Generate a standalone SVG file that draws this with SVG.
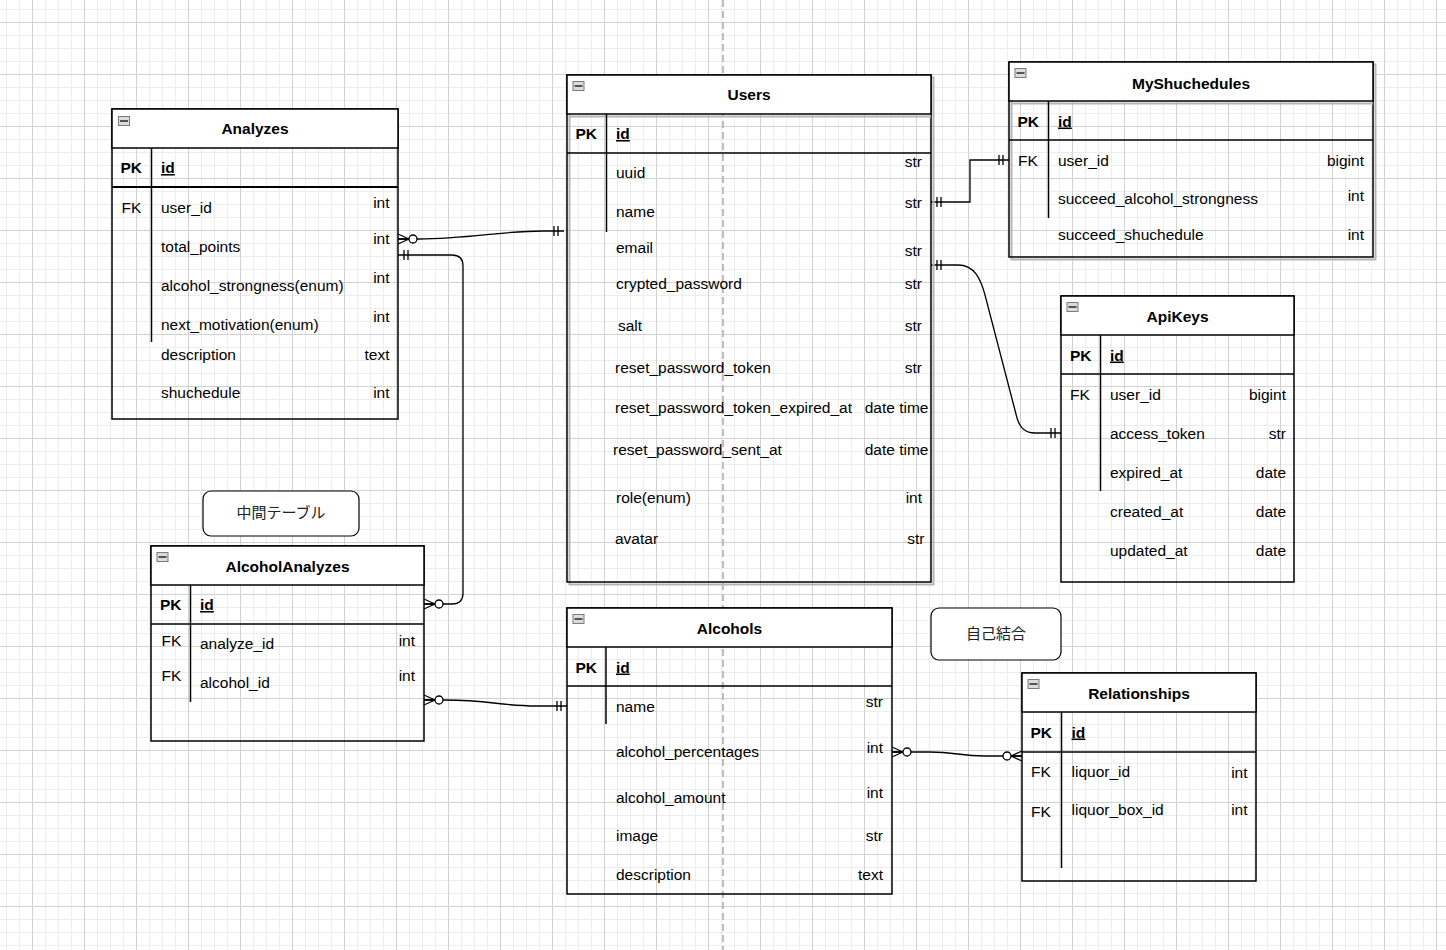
<svg xmlns="http://www.w3.org/2000/svg" width="1446" height="950" viewBox="0 0 1446 950">
<defs>
<pattern id="gridp" patternUnits="userSpaceOnUse" x="32" y="22" width="52" height="52">
<path d="M13.5,0V52M26.5,0V52M39.5,0V52M0,13.5H52M0,26.5H52M0,39.5H52" stroke="#ededed" stroke-width="1" fill="none"/>
<path d="M0.5,0V52M0,0.5H52" stroke="#d2d2d2" stroke-width="1" fill="none"/>
</pattern>
<marker id="zeroMany" viewBox="-20 -8 22 16" refX="0" refY="0" markerWidth="22" markerHeight="16" markerUnits="userSpaceOnUse" orient="auto-start-reverse">
<path d="M-11,0L0,-5M-11,0L0,0M-11,0L0,5" stroke="#000" stroke-width="1.3" fill="none"/>
<circle cx="-15" cy="0" r="4" fill="#fff" stroke="#000" stroke-width="1.3"/>
</marker>
<marker id="mandOne" viewBox="-14 -8 16 16" refX="0" refY="0" markerWidth="16" markerHeight="16" markerUnits="userSpaceOnUse" orient="auto-start-reverse">
<path d="M-6,-5V5M-10,-5V5" stroke="#000" stroke-width="1.3" fill="none"/>
</marker>
</defs>
<style>
.t{font-family:"Liberation Sans",Arial,sans-serif;font-size:15.5px;fill:#000}
.b{font-weight:bold}
.u{text-decoration:underline}
.r{text-anchor:end}
.m{text-anchor:middle}
.cjk{font-family:"Liberation Sans","Noto Sans CJK JP",sans-serif;font-size:15px;fill:#222;text-anchor:middle}
.box{fill:none;stroke:#000;stroke-width:1.5}
.hdr{fill:#fff;stroke:#000;stroke-width:1.5}
.ln{stroke:#000;stroke-width:1.5;fill:none}
.sh{fill:none;stroke:#b5b5b5;stroke-width:2}
.ico{fill:#dcdcdc;stroke:#7a7a7a;stroke-width:1}
.icl{stroke:#555;stroke-width:2}
.conn{fill:none;stroke:#000;stroke-width:1.3}
.note{fill:#fff;stroke:#000;stroke-width:1.2}
</style>
<g id="background">
<rect x="0" y="0" width="1446" height="950" fill="#fff"/>
<rect x="0" y="0" width="1446" height="950" fill="url(#gridp)"/>
<line x1="723" y1="0" x2="723" y2="950" stroke="#bdbdbd" stroke-width="2" stroke-dasharray="7 4"/>
</g>

<g id="connectors">
<path class="conn" d="M398,239 L418,239 C470,239 500,231 543,231 L564,231" marker-start="url(#zeroMany)" marker-end="url(#mandOne)"/>
<path class="conn" d="M398,255 L452,255 Q463,255 463,266 L463,593 Q463,604 452,604 L424,604" marker-start="url(#mandOne)" marker-end="url(#zeroMany)"/>
<path class="conn" d="M931,202 H970 V160 H1009" marker-start="url(#mandOne)" marker-end="url(#mandOne)"/>
<path class="conn" d="M931,265 L958,265 C975,265 981,280 985,295 L1017,418 C1020,428 1025,433 1035,433 L1061,433" marker-start="url(#mandOne)" marker-end="url(#mandOne)"/>
<path class="conn" d="M424,700 L444,700 C490,700 500,706 537,706 L567,706" marker-start="url(#zeroMany)" marker-end="url(#mandOne)"/>
<path class="conn" d="M892,752 L930,752 C955,752 960,756 985,756 L1022,756" marker-start="url(#zeroMany)" marker-end="url(#zeroMany)"/>
</g>

<g id="note-chukan">
<rect class="note" x="203" y="491" width="156" height="45" rx="8"/>
<text class="cjk" x="281" y="518">中間テーブル</text>
</g>
<g id="note-jiko">
<rect class="note" x="931" y="608" width="130" height="52" rx="8"/>
<text class="cjk" x="996" y="638.5">自己結合</text>
</g>

<g id="Analyzes">
<rect class="box" x="112" y="109" width="286" height="310"/>
<rect class="hdr" x="112" y="109" width="286" height="39"/>
<rect class="ico" x="118.5" y="116.5" width="11" height="9"/><line class="icl" x1="120" y1="121" x2="128" y2="121"/>
<line x1="112" y1="187" x2="398" y2="187" stroke="#000" stroke-width="2.2"/>
<line class="ln" x1="151.5" y1="148" x2="151.5" y2="342"/>
<text class="t b m" x="255" y="134">Analyzes</text>
<text class="t b" x="120.5" y="173">PK</text>
<text class="t b u" x="161" y="173">id</text>
<text class="t" x="121.5" y="212.5">FK</text>
<text class="t" x="161" y="212.5">user_id</text><text class="t r" x="389.5" y="208">int</text>
<text class="t" x="161" y="251.5">total_points</text><text class="t r" x="389.5" y="244">int</text>
<text class="t" x="161" y="290.5">alcohol_strongness(enum)</text><text class="t r" x="389.5" y="283">int</text>
<text class="t" x="161" y="329.5">next_motivation(enum)</text><text class="t r" x="389.5" y="322">int</text>
<text class="t" x="161" y="360">description</text><text class="t r" x="389.5" y="360">text</text>
<text class="t" x="161" y="397.5">shuchedule</text><text class="t r" x="389.5" y="397.5">int</text>
</g>

<g id="Users">
<rect class="sh" x="569.5" y="77.5" width="364" height="507"/>
<rect class="box" x="567" y="75" width="364" height="507"/>
<rect class="hdr" x="567" y="75" width="364" height="39"/>
<line class="sh" x1="569" y1="116.5" x2="931" y2="116.5"/>
<rect class="ico" x="573" y="81.5" width="11" height="9"/><line class="icl" x1="574.5" y1="86" x2="582.5" y2="86"/>
<line class="ln" x1="567" y1="153" x2="931" y2="153"/>
<line class="ln" x1="606.5" y1="114" x2="606.5" y2="232"/>
<text class="t b m" x="749" y="100">Users</text>
<text class="t b" x="575.5" y="139">PK</text>
<text class="t b u" x="616" y="139">id</text>
<text class="t" x="616" y="178">uuid</text><text class="t r" x="922" y="167">str</text>
<text class="t" x="616" y="217">name</text><text class="t r" x="922" y="208">str</text>
<text class="t" x="616" y="252.5">email</text><text class="t r" x="922" y="255.5">str</text>
<text class="t" x="616" y="288.5">crypted_password</text><text class="t r" x="922" y="289">str</text>
<text class="t" x="618" y="330.5">salt</text><text class="t r" x="922" y="330.5">str</text>
<text class="t" x="615" y="372.5">reset_password_token</text><text class="t r" x="922" y="372.5">str</text>
<text class="t" x="615" y="413">reset_password_token_expired_at</text><text class="t r" x="928.5" y="413">date time</text>
<text class="t" x="613" y="455">reset_password_sent_at</text><text class="t r" x="928.5" y="455">date time</text>
<text class="t" x="616" y="502.5">role(enum)</text><text class="t r" x="922" y="502.5">int</text>
<text class="t" x="615" y="544">avatar</text><text class="t r" x="924.5" y="544">str</text>
</g>

<g id="MyShuchedules">
<rect class="sh" x="1011.5" y="64.5" width="364" height="195"/>
<rect class="box" x="1009" y="62" width="364" height="195"/>
<rect class="hdr" x="1009" y="62" width="364" height="39"/>
<line class="sh" x1="1011" y1="103.5" x2="1373" y2="103.5"/>
<rect class="ico" x="1015" y="68.5" width="11" height="9"/><line class="icl" x1="1016.5" y1="73" x2="1024.5" y2="73"/>
<line class="ln" x1="1009" y1="140" x2="1373" y2="140"/>
<line class="ln" x1="1048.5" y1="101" x2="1048.5" y2="218"/>
<text class="t b m" x="1191" y="88.5">MyShuchedules</text>
<text class="t b" x="1017.5" y="126.5">PK</text>
<text class="t b u" x="1058" y="126.5">id</text>
<text class="t" x="1018" y="165.5">FK</text>
<text class="t" x="1058" y="165.5">user_id</text><text class="t r" x="1364" y="165.5">bigint</text>
<text class="t" x="1058" y="204">succeed_alcohol_strongness</text><text class="t r" x="1364" y="200.5">int</text>
<text class="t" x="1058" y="239.5">succeed_shuchedule</text><text class="t r" x="1364" y="239.5">int</text>
</g>

<g id="ApiKeys">
<rect class="box" x="1061" y="296" width="233" height="286"/>
<rect class="hdr" x="1061" y="296" width="233" height="39"/>
<rect class="ico" x="1067" y="302.5" width="11" height="9"/><line class="icl" x1="1068.5" y1="307" x2="1076.5" y2="307"/>
<line class="ln" x1="1061" y1="374" x2="1294" y2="374"/>
<line class="ln" x1="1100.5" y1="335" x2="1100.5" y2="491"/>
<text class="t b m" x="1177.5" y="321.5">ApiKeys</text>
<text class="t b" x="1070" y="360.5">PK</text>
<text class="t b u" x="1110" y="360.5">id</text>
<text class="t" x="1070" y="400">FK</text>
<text class="t" x="1110" y="400">user_id</text><text class="t r" x="1286" y="400">bigint</text>
<text class="t" x="1110" y="438.5">access_token</text><text class="t r" x="1286" y="438.5">str</text>
<text class="t" x="1110" y="477.5">expired_at</text><text class="t r" x="1286" y="477.5">date</text>
<text class="t" x="1110" y="516.5">created_at</text><text class="t r" x="1286" y="516.5">date</text>
<text class="t" x="1110" y="555.5">updated_at</text><text class="t r" x="1286" y="555.5">date</text>
</g>

<g id="AlcoholAnalyzes">
<rect class="box" x="151" y="546" width="273" height="195"/>
<rect class="hdr" x="151" y="546" width="273" height="39"/>
<rect class="ico" x="157" y="552.5" width="11" height="9"/><line class="icl" x1="158.5" y1="557" x2="166.5" y2="557"/>
<line class="ln" x1="151" y1="624" x2="424" y2="624"/>
<line class="ln" x1="190.5" y1="585" x2="190.5" y2="702"/>
<text class="t b m" x="287.5" y="571.5">AlcoholAnalyzes</text>
<text class="t b" x="160" y="610">PK</text>
<text class="t b u" x="200" y="610">id</text>
<text class="t" x="161.5" y="645.5">FK</text>
<text class="t" x="200" y="648.5">analyze_id</text><text class="t r" x="415" y="645.5">int</text>
<text class="t" x="161.5" y="680.5">FK</text>
<text class="t" x="200" y="687.5">alcohol_id</text><text class="t r" x="415" y="680.5">int</text>
</g>

<g id="Alcohols">
<rect class="box" x="567" y="608" width="325" height="286"/>
<rect class="hdr" x="567" y="608" width="325" height="39"/>
<rect class="ico" x="573" y="614.5" width="11" height="9"/><line class="icl" x1="574.5" y1="619" x2="582.5" y2="619"/>
<line class="ln" x1="567" y1="686" x2="892" y2="686"/>
<line class="ln" x1="606" y1="647" x2="606" y2="724"/>
<text class="t b m" x="729.5" y="633.5">Alcohols</text>
<text class="t b" x="575.5" y="672.5">PK</text>
<text class="t b u" x="616" y="672.5">id</text>
<text class="t" x="616" y="711.5">name</text><text class="t r" x="883" y="706.5">str</text>
<text class="t" x="616" y="756.5">alcohol_percentages</text><text class="t r" x="883" y="752.5">int</text>
<text class="t" x="616" y="802.5">alcohol_amount</text><text class="t r" x="883" y="797.5">int</text>
<text class="t" x="616" y="841">image</text><text class="t r" x="883" y="841">str</text>
<text class="t" x="616" y="880">description</text><text class="t r" x="883" y="880">text</text>
</g>

<g id="Relationships">
<rect class="box" x="1022" y="673" width="234" height="208"/>
<rect class="hdr" x="1022" y="673" width="234" height="39"/>
<rect class="ico" x="1028" y="679.5" width="11" height="9"/><line class="icl" x1="1029.5" y1="684" x2="1037.5" y2="684"/>
<line class="ln" x1="1022" y1="752" x2="1256" y2="752"/>
<line class="ln" x1="1061.5" y1="712" x2="1061.5" y2="868"/>
<text class="t b m" x="1139" y="699">Relationships</text>
<text class="t b" x="1030.5" y="737.5">PK</text>
<text class="t b u" x="1071.5" y="737.5">id</text>
<text class="t" x="1031" y="777">FK</text>
<text class="t" x="1071.5" y="776.5">liquor_id</text><text class="t r" x="1247.5" y="777.5">int</text>
<text class="t" x="1031" y="816.5">FK</text>
<text class="t" x="1071.5" y="815">liquor_box_id</text><text class="t r" x="1247.5" y="815">int</text>
</g>
</svg>
